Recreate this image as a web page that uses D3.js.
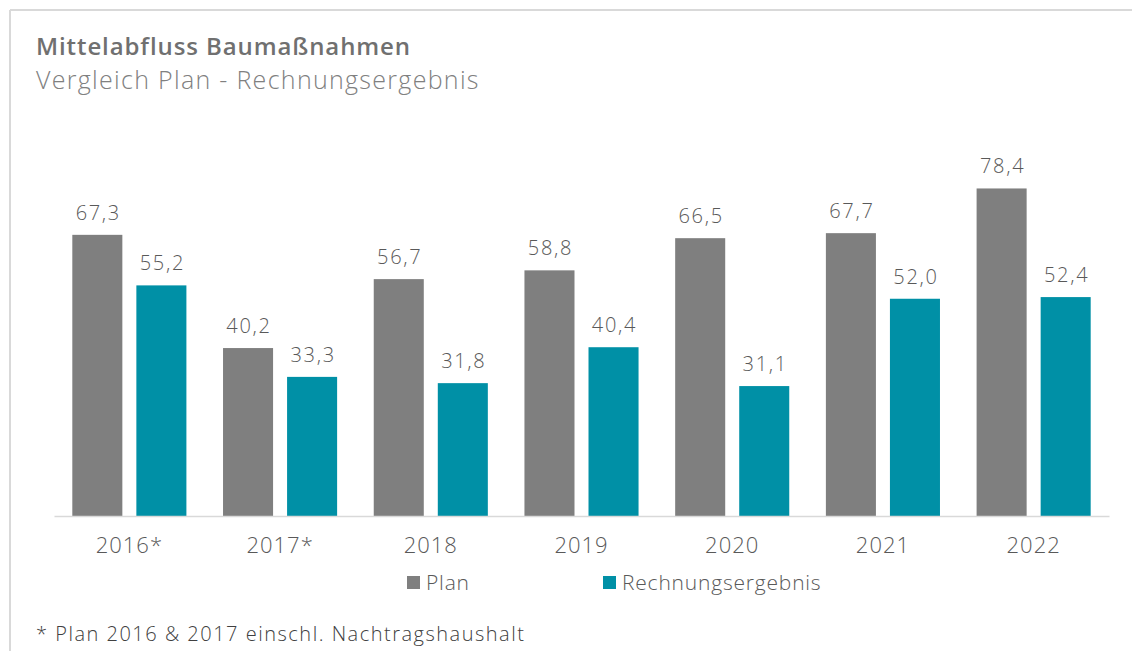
<!DOCTYPE html>
<html>
<head>
<meta charset="utf-8">
<script src="https://cdn.jsdelivr.net/npm/d3@7"></script>
<style>
  body { margin: 0; background: #fff; }
  svg { display: block; font-family: "Open Sans", "Noto Sans", sans-serif; }
</style>
</head>
<body>
<div id="chart"></div>
<script>
const width = 1132;
const height = 651;

// Daten (Mio. €)
const years = ["2016*", "2017*", "2018", "2019", "2020", "2021", "2022"];
const plan = [67.3, 40.2, 56.7, 58.8, 66.5, 67.7, 78.4];
const rechnung = [55.2, 33.3, 31.8, 40.4, 31.1, 52.0, 52.4];
const seriesNames = ["Plan", "Rechnungsergebnis"];
const seriesColors = ["#7f7f7f", "#0090a6"];

const svg = d3.select("#chart")
    .append("svg")
    .attr("width", width)
    .attr("height", height);

// Rahmen oben und links
svg.append("line")
    .attr("x1", 10).attr("x2", width).attr("y1", 10).attr("y2", 10)
    .attr("stroke", "#d9d9d9").attr("stroke-width", 2);
svg.append("line")
    .attr("x1", 10).attr("x2", 10).attr("y1", 10).attr("y2", height)
    .attr("stroke", "#d9d9d9").attr("stroke-width", 2);

// Titel
svg.append("text")
    .attr("x", 36).attr("y", 55)
    .attr("fill", "#707070")
    .attr("font-size", 24)
    .attr("font-weight", 600)
    .attr("letter-spacing", 0.9)
    .text("Mittelabfluss Baumaßnahmen");
svg.append("text")
    .attr("x", 36).attr("y", 89)
    .attr("fill", "#808080")
    .attr("font-size", 25)
    .attr("font-weight", 300)
    .attr("letter-spacing", 1.3)
    .text("Vergleich Plan - Rechnungsergebnis");

const baseY = 516;

const x0 = d3.scaleBand()
    .domain(years)
    .range([54, 1109])
    .paddingInner(0.243)
    .paddingOuter(0.1215);

const x1 = d3.scaleBand()
    .domain(seriesNames)
    .range([0, x0.bandwidth()])
    .paddingInner(0.21875);

const y = d3.scaleLinear()
    .domain([0, 90])
    .range([baseY, 140]);

const rows = years.map((yr, i) => ({
    year: yr,
    values: [
        { key: seriesNames[0], value: plan[i] },
        { key: seriesNames[1], value: rechnung[i] }
    ]
}));

const color = d3.scaleOrdinal().domain(seriesNames).range(seriesColors);
const fmt = v => d3.format(".1f")(v).replace(".", ",");

const groups = svg.append("g")
    .selectAll("g")
    .data(rows)
    .join("g")
    .attr("transform", d => `translate(${x0(d.year)},0)`);

groups.selectAll("rect")
    .data(d => d.values)
    .join("rect")
    .attr("x", d => x1(d.key))
    .attr("y", d => y(d.value))
    .attr("width", x1.bandwidth())
    .attr("height", d => baseY - y(d.value))
    .attr("fill", d => color(d.key));

groups.selectAll("text")
    .data(d => d.values)
    .join("text")
    .attr("x", d => x1(d.key) + x1.bandwidth() / 2 + 1)
    .attr("y", d => y(d.value) - 15)
    .attr("text-anchor", "middle")
    .attr("fill", "#595959")
    .attr("font-size", 20)
    .attr("font-weight", 300)
    .attr("letter-spacing", 1.7)
    .text(d => fmt(d.value));

// x-Achse
const xAxis = svg.append("g")
    .attr("transform", `translate(0,${baseY})`)
    .call(d3.axisBottom(x0).tickSize(0).tickPadding(21).tickSizeOuter(0));
xAxis.select(".domain").attr("stroke", "#d9d9d9").attr("stroke-width", 1.5);
xAxis.selectAll("text")
    .attr("fill", "#595959")
    .attr("font-size", 22)
    .attr("font-weight", 300)
    .attr("letter-spacing", 1)
    .attr("font-family", "\"Open Sans\", \"Noto Sans\", sans-serif");

// Legende
const legendX = [407, 603];
const legend = svg.append("g")
    .selectAll("g")
    .data(seriesNames)
    .join("g")
    .attr("transform", (d, i) => `translate(${legendX[i]},${576})`);
legend.append("rect")
    .attr("width", 13).attr("height", 13)
    .attr("fill", d => color(d));
legend.append("text")
    .attr("x", 19).attr("y", 14)
    .attr("fill", "#595959")
    .attr("font-size", 21)
    .attr("font-weight", 300)
    .attr("letter-spacing", 0.8)
    .text(d => d);

// Fußnote
svg.append("text")
    .attr("x", 36).attr("y", 641)
    .attr("fill", "#404040")
    .attr("font-size", 20)
    .attr("font-weight", 300)
    .attr("letter-spacing", 1.5)
    .text("* Plan 2016 & 2017 einschl. Nachtragshaushalt");
</script>
</body>
</html>
